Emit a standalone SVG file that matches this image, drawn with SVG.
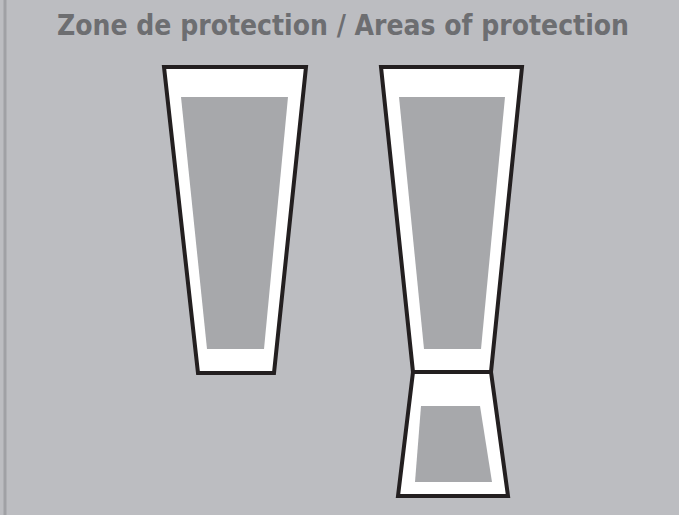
<svg xmlns="http://www.w3.org/2000/svg" width="679" height="515" viewBox="0 0 679 515">
<style>
.shell{fill:#ffffff;stroke:#231f20;stroke-width:4;stroke-linejoin:miter}
.zone{fill:#a7a8ab}
.title{font-family:"DejaVu Sans Condensed","DejaVu Sans",sans-serif;font-weight:bold;font-size:29px;fill:#6d6e71}
</style>
<rect x="0" y="0" width="679" height="515" fill="#bcbdc1"/>
<rect x="3.5" y="0" width="3" height="515" fill="#a0a1a5"/>
<text class="title" x="343" y="34.5" text-anchor="middle" textLength="572" lengthAdjust="spacingAndGlyphs">Zone de protection / Areas of protection</text>
<g id="left-shape">
<polygon class="shell" points="164,67 306,67 274,373 198,373"/>
<polygon class="zone" points="181,97 288,97 264,349 207,349"/>
</g>
<g id="right-upper-shape">
<polygon class="shell" points="381,67 522,67 491,372 413,372"/>
<polygon class="zone" points="399,97 505,97 481,349 424,349"/>
</g>
<g id="right-lower-shape">
<polygon class="shell" points="413,372 491,372 508,496 398,496"/>
<polygon class="zone" points="421,406 480,406 492,482 415,482"/>
</g>
<g id="connectors"/>
</svg>
